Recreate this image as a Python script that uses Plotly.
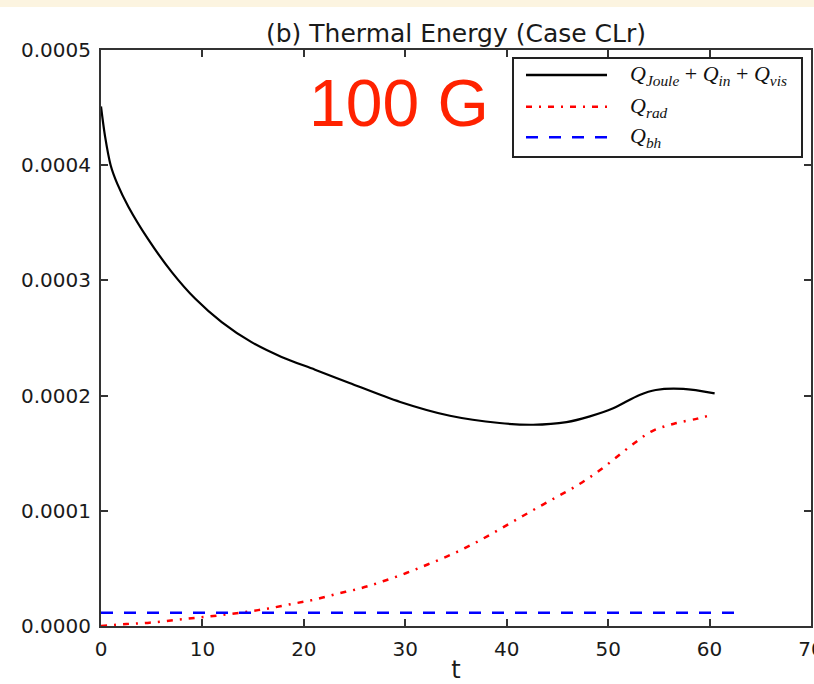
import plotly.graph_objects as go

# ---- data ----
t_total = [0, 0.4, 0.95, 1.6, 2.7, 4.66, 7.0, 9.3, 11.9, 14.8, 17.8, 21.1, 24.5,
           29.5, 34.4, 39.3, 42.6, 45.9, 48.2, 50.5, 53.1, 54.7, 57.4, 60.5]
q_total = [4.51e-4, 4.25e-4, 4.00e-4, 3.84e-4, 3.64e-4, 3.356e-4, 3.07e-4, 2.84e-4,
           2.638e-4, 2.466e-4, 2.336e-4, 2.225e-4, 2.11e-4, 1.945e-4, 1.825e-4, 1.762e-4,
           1.747e-4, 1.77e-4, 1.82e-4, 1.89e-4, 2.006e-4, 2.049e-4, 2.058e-4, 2.02e-4]

t_rad = [0, 2.5, 4.8, 7.3, 9.5, 11.9, 14.4, 16.5, 18.9, 21.1, 23.4, 25.7, 27.8,
         30.1, 32.2, 34.4, 36.5, 38.5, 40.6, 42.6, 44.7, 46.7, 48.7, 50.5, 52.4,
         54.3, 56.5, 58.8, 60.0]
q_rad = [0, 0.17e-5, 0.29e-5, 0.52e-5, 0.72e-5, 0.95e-5, 1.24e-5, 1.52e-5, 1.93e-5,
         2.30e-5, 2.82e-5, 3.30e-5, 3.88e-5, 4.60e-5, 5.34e-5, 6.15e-5, 7.04e-5,
         7.99e-5, 9.05e-5, 10.06e-5, 11.09e-5, 12.07e-5, 13.22e-5, 14.42e-5, 15.75e-5,
         16.9e-5, 17.56e-5, 18.0e-5, 18.28e-5]

t_bh = [0, 63]
q_bh = [1.15e-5, 1.15e-5]

x_ticks = [0, 10, 20, 30, 40, 50, 60, 70]
y_ticks = [0.0, 0.0001, 0.0002, 0.0003, 0.0004, 0.0005]

title_text = "(b) Thermal Energy (Case CLr)"
legend_labels = [
    "<i>Q</i><sub><i>Joule</i></sub> + <i>Q</i><sub><i>in</i></sub> + <i>Q</i><sub><i>vis</i></sub>",
    "<i>Q</i><sub><i>rad</i></sub>",
    "<i>Q</i><sub><i>bh</i></sub>",
]

# ---- styles ----
RED_DASH = "6px,7px,2px,7px"
BLUE_DASH = "12px,11px"

W, H = 814, 684
ML, MR, MT, MB = 101, 3, 50, 58
PW, PH = W - ML - MR, H - MT - MB


def px(xp):
    return (xp - ML) / PW


def py(yp):
    return (H - MB - yp) / PH


fig = go.Figure()
fig.add_trace(go.Scatter(x=t_total, y=q_total, mode="lines",
                         line=dict(color="black", width=2.2, shape="spline", smoothing=0.9),
                         showlegend=False))
fig.add_trace(go.Scatter(x=t_rad, y=q_rad, mode="lines",
                         line=dict(color="#ff0000", width=2.5, dash=RED_DASH,
                                   shape="spline", smoothing=1.0),
                         showlegend=False))
fig.add_trace(go.Scatter(x=t_bh, y=q_bh, mode="lines",
                         line=dict(color="#0000ff", width=2.5, dash=BLUE_DASH),
                         showlegend=False))

axis_common = dict(showline=True, linecolor="#333", linewidth=2, mirror="ticks",
                   ticks="inside", ticklen=7, tickwidth=1.5, tickcolor="#333",
                   showgrid=False, zeroline=False, ticklabeloverflow="allow",
                   automargin=False,
                   tickfont=dict(family="DejaVu Sans", size=20, color="#1a1a1a"))

fig.update_xaxes(range=[0, 70], tickvals=x_ticks, ticktext=[str(v) for v in x_ticks],
                 title=dict(text="t", font=dict(family="DejaVu Sans", size=24, color="#1a1a1a"),
                            standoff=6),
                 ticklabelstandoff=4, **axis_common)
fig.update_yaxes(range=[0, 0.0005], tickvals=y_ticks, tickformat=".4f",
                 ticklabelstandoff=4, **axis_common)

shapes = []
# slide-like cream band at the very top
shapes.append(dict(type="rect", xref="paper", yref="paper",
                   x0=px(0), x1=px(W), y0=py(7), y1=py(0),
                   fillcolor="rgb(252,244,224)", line=dict(width=0), layer="below"))
# legend box
shapes.append(dict(type="rect", xref="paper", yref="paper",
                   x0=px(513), x1=px(802), y0=py(157), y1=py(58),
                   fillcolor="white", line=dict(color="#222", width=2)))
legend_styles = [dict(color="black", width=2.5),
                 dict(color="#ff0000", width=2.5, dash=RED_DASH),
                 dict(color="#0000ff", width=2.5, dash=BLUE_DASH)]
legend_rows = [75, 106.7, 137.3]
annotations = []
for yy, st, lab in zip(legend_rows, legend_styles, legend_labels):
    shapes.append(dict(type="line", xref="paper", yref="paper",
                       x0=px(526), x1=px(607), y0=py(yy), y1=py(yy), line=st))
    annotations.append(dict(xref="paper", yref="paper", x=px(628), y=py(yy),
                            xanchor="left", yanchor="middle", showarrow=False,
                            text=lab, font=dict(family="Liberation Serif", size=22,
                                                color="#111")))

annotations.append(dict(xref="paper", yref="paper", x=px(399), y=py(103),
                        xanchor="center", yanchor="middle", showarrow=False,
                        text="100 G",
                        font=dict(family="Liberation Sans", size=66, color="#ff2200")))

fig.update_layout(
    width=W, height=H,
    margin=dict(l=ML, r=MR, t=MT, b=MB, pad=0, autoexpand=False),
    paper_bgcolor="white", plot_bgcolor="white",
    title=dict(text=title_text, x=px(456), xref="paper", xanchor="center",
               y=1 - 33 / H, yref="container", yanchor="middle",
               font=dict(family="DejaVu Sans", size=25, color="#1a1a1a")),
    shapes=shapes, annotations=annotations, showlegend=False,
)

fig.write_html("out.html")
